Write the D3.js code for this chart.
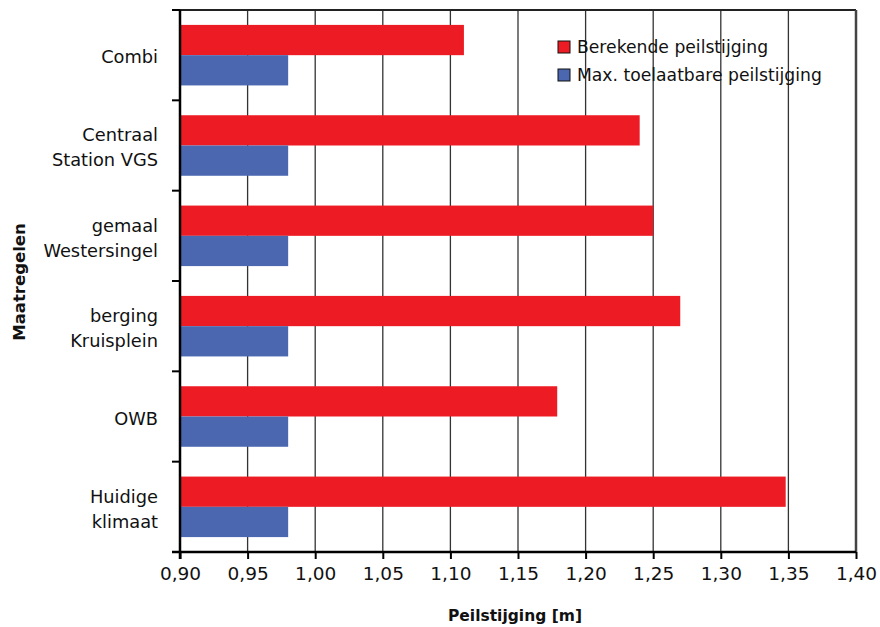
<!DOCTYPE html>
<html>
<head>
<meta charset="utf-8">
<script src="https://cdn.jsdelivr.net/npm/d3@7"></script>
<style>
  body { margin: 0; background: #fff; }
  svg { font-family: "DejaVu Sans", sans-serif; }
</style>
</head>
<body>
<div class="chart"></div>
<script>
// data, top to bottom
var categories = [
  ["Combi"],
  ["Centraal", "Station VGS"],
  ["gemaal", "Westersingel"],
  ["berging", "Kruisplein"],
  ["OWB"],
  ["Huidige", "klimaat"]
];
var berekend = [1.11, 1.24, 1.25, 1.27, 1.179, 1.348];
var maxToelaatbaar = [0.98, 0.98, 0.98, 0.98, 0.98, 0.98];
var xTicks = [0.90, 0.95, 1.00, 1.05, 1.10, 1.15, 1.20, 1.25, 1.30, 1.35, 1.40];
var seriesNames = ["Berekende peilstijging", "Max. toelaatbare peilstijging"];
var colors = ["#ed1c24", "#4a67b0"];

var W = 880, H = 627;
var margin = {top: 10, right: 24, bottom: 75, left: 180},
    width = 856 - margin.left,
    height = 552 - margin.top;

var svg = d3.select(".chart").append("svg")
    .attr("width", W)
    .attr("height", H);

var g = svg.append("g")
    .attr("transform", `translate(${margin.left}, ${margin.top})`);

var x = d3.scaleLinear().domain([0.90, 1.40]).range([0, width]);
var idx = d3.range(categories.length);
var y = d3.scaleBand().domain(idx).range([0, height]).paddingInner(0.33).paddingOuter(0.165);
var y1 = d3.scaleBand().domain([0, 1]).range([0, y.bandwidth()]);

// grid lines
g.selectAll(".grid")
  .data(xTicks.slice(1, -1))
  .enter().append("line")
  .attr("x1", d => x(d)).attr("x2", d => x(d))
  .attr("y1", 0).attr("y2", height)
  .attr("stroke", "#333")
  .attr("stroke-width", 1.3);

// bars
var rows = g.selectAll(".row")
  .data(idx)
  .enter().append("g")
  .attr("transform", i => `translate(0, ${y(i)})`);

rows.append("rect")
  .attr("x", 0)
  .attr("y", y1(0))
  .attr("width", i => x(berekend[i]) - x(0.90))
  .attr("height", y1.bandwidth())
  .attr("fill", colors[0]);

rows.append("rect")
  .attr("x", 0)
  .attr("y", y1(1))
  .attr("width", i => x(maxToelaatbaar[i]) - x(0.90))
  .attr("height", y1.bandwidth())
  .attr("fill", colors[1]);

// frame: top and right
g.append("line")
  .attr("x1", -8).attr("x2", width)
  .attr("y1", 0).attr("y2", 0)
  .attr("stroke", "#222").attr("stroke-width", 2);
g.append("line")
  .attr("x1", width).attr("x2", width)
  .attr("y1", 0).attr("y2", height)
  .attr("stroke", "#444").attr("stroke-width", 2.5);

// x axis
var xAxis = g.append("g")
  .attr("transform", `translate(0, ${height})`)
  .call(d3.axisBottom(x).tickValues(xTicks).tickSize(7).tickPadding(8)
    .tickFormat(d => d3.format(".2f")(d).replace(".", ",")));
xAxis.attr("font-family", "DejaVu Sans");
xAxis.select(".domain").attr("stroke", "#000").attr("stroke-width", 2.5).attr("d", `M-8,0H${width}`);
xAxis.selectAll(".tick line").attr("stroke", "#000").attr("stroke-width", 2);
xAxis.selectAll("text").attr("font-size", "18.5px").attr("fill", "#111");

// y axis: ticks between categories
var yEdges = d3.range(categories.length + 1).map(i => i * height / categories.length);
g.append("line")
  .attr("x1", 0).attr("x2", 0).attr("y1", 0).attr("y2", height + 7)
  .attr("stroke", "#000").attr("stroke-width", 2.5);
g.selectAll(".ytick")
  .data(yEdges)
  .enter().append("line")
  .attr("x1", -8).attr("x2", 0)
  .attr("y1", d => d).attr("y2", d => d)
  .attr("stroke", "#000").attr("stroke-width", 2);

// category labels
var lineH = 25;
g.selectAll(".ylab")
  .data(idx)
  .enter().append("text")
  .attr("text-anchor", "end")
  .attr("font-size", "17.8px")
  .attr("fill", "#111")
  .each(function(i) {
    var lines = categories[i];
    var cy = y(i) + y.bandwidth() / 2 + 2;
    var t = d3.select(this);
    lines.forEach((l, k) => {
      t.append("tspan")
        .attr("x", -22)
        .attr("y", cy + (k - (lines.length - 1) / 2) * lineH)
        .attr("dy", "0.35em")
        .text(l);
    });
  });

// axis titles
svg.append("text")
  .attr("x", 515).attr("y", 621)
  .attr("text-anchor", "middle")
  .attr("font-size", "15.5px")
  .attr("font-weight", "bold")
  .attr("fill", "#111")
  .text("Peilstijging [m]");

svg.append("text")
  .attr("transform", "translate(25, 282) rotate(-90)")
  .attr("text-anchor", "middle")
  .attr("font-size", "16.5px")
  .attr("font-weight", "bold")
  .attr("fill", "#111")
  .text("Maatregelen");

// legend
var legend = svg.append("g").attr("transform", "translate(558, 41)");
seriesNames.forEach((name, k) => {
  var row = legend.append("g").attr("transform", `translate(0, ${k * 28})`);
  row.append("rect")
    .attr("width", 12).attr("height", 12)
    .attr("fill", colors[k])
    .attr("stroke", "#111").attr("stroke-width", 1);
  row.append("text")
    .attr("x", 19).attr("y", 6)
    .attr("dy", "0.35em")
    .attr("font-size", "17.2px")
    .attr("fill", "#111")
    .text(name);
});
</script>
</body>
</html>
